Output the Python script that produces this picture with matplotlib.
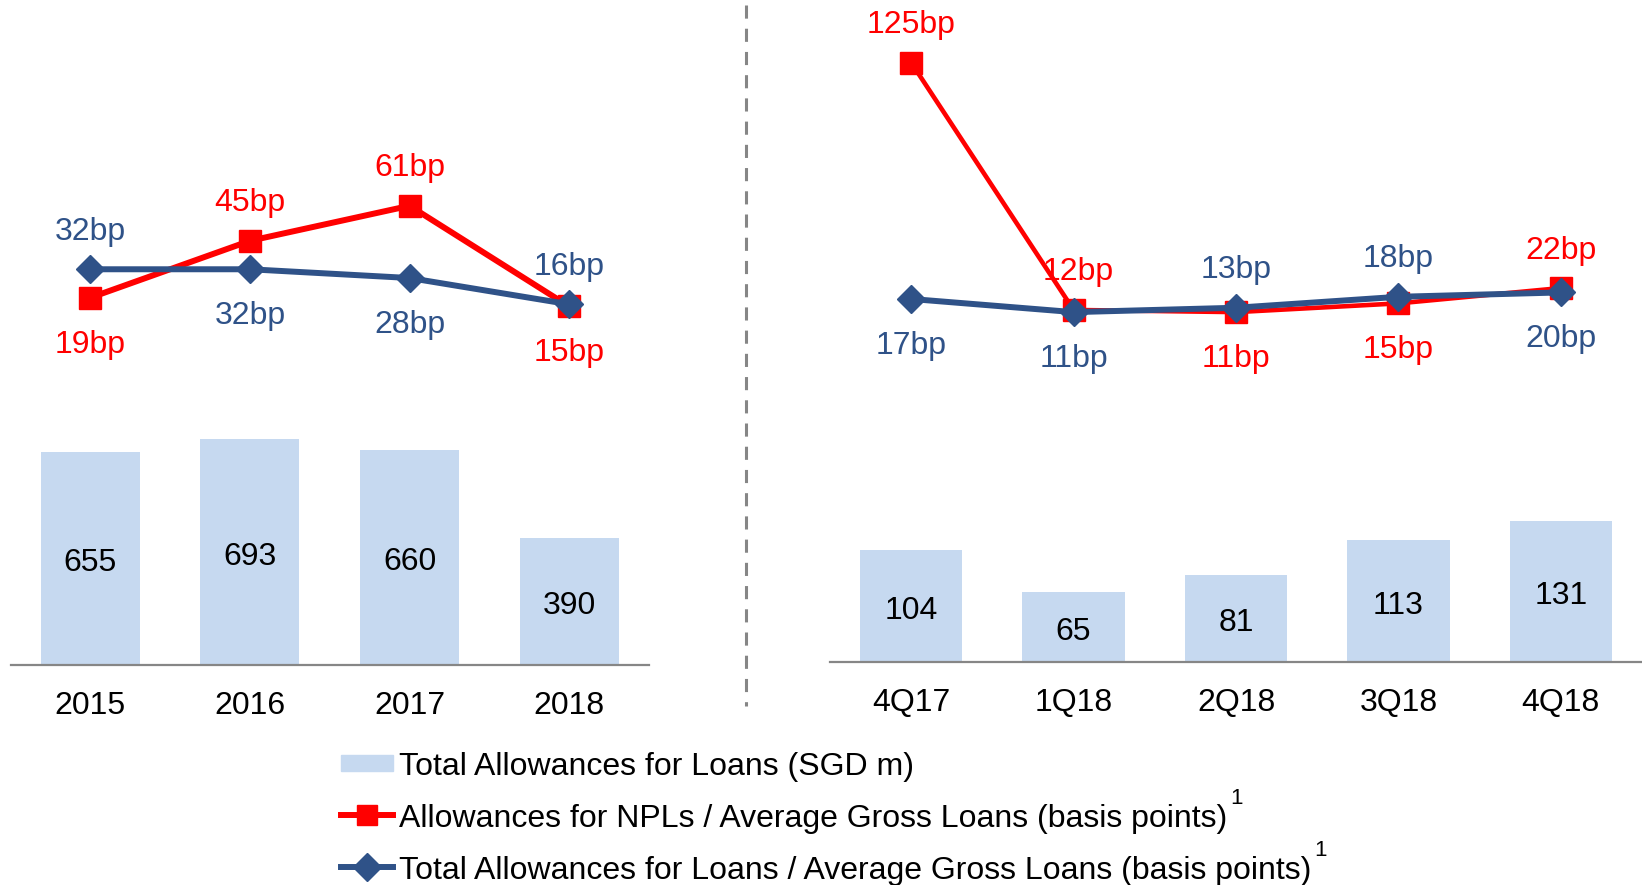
import numpy as np
import matplotlib
matplotlib.use("Agg")
import matplotlib.pyplot as plt
from matplotlib.lines import Line2D
from matplotlib.patches import Rectangle

plt.rcParams['font.family'] = ['Liberation Sans', 'DejaVu Sans']

# Annual figures
years = ["2015", "2016", "2017", "2018"]
year_allowances = [655, 693, 660, 390]
year_npl_bp = [19, 45, 61, 15]
year_total_bp = [32, 32, 28, 16]

# Quarterly figures
quarters = ["4Q17", "1Q18", "2Q18", "3Q18", "4Q18"]
qtr_allowances = [104, 65, 81, 113, 131]
qtr_npl_bp = [125, 12, 11, 15, 22]
qtr_total_bp = [17, 11, 13, 18, 20]

legend_labels = [
    "Total Allowances for Loans (SGD m)",
    "Allowances for NPLs / Average Gross Loans (basis points)",
    "Total Allowances for Loans / Average Gross Loans (basis points)",
]

# which side of the marker each value label sits on (+1 above, -1 below)
year_npl_side = [-1, 1, 1, -1]
year_total_side = [1, -1, -1, 1]
qtr_npl_side = [1, 1, -1, -1, 1]
qtr_total_side = [-1, -1, 1, 1, -1]

BAR = "#C6D9F0"
RED = "#FF0000"
BLUE = "#2F5288"
AXIS = "#868686"
FS = 23

W, H = 1642, 885
fig = plt.figure(figsize=(W / 100, H / 100), dpi=100)


def px_rect(x0, x1, base):
    return [x0 / W, (H - base) / H, (x1 - x0) / W, base / H]


def label_offset(side):
    return 27 if side > 0 else -33.7


def panel(rect, cats, bars, npl, total, npl_side, total_side,
          bar_top, line_lim, bar_w, npl_lw, label_dx=None):
    ax = fig.add_axes(rect)
    x = np.arange(len(cats))
    ax.bar(x, bars, width=bar_w, color=BAR, zorder=1)
    for xi, v in zip(x, bars):
        ax.annotate(str(v), (xi, v / 2), xytext=(0, -3.5),
                    textcoords='offset points', ha='center', va='center',
                    fontsize=FS, color='black')
    ax.set_xlim(-0.5, len(cats) - 0.5)
    ax.set_ylim(0, bar_top)
    ax.set_xticks(x, cats)
    ax.tick_params(axis='x', length=0, pad=19, labelsize=FS)
    ax.set_yticks([])
    for s in ('top', 'left', 'right'):
        ax.spines[s].set_visible(False)
    ax.spines['bottom'].set_color(AXIS)
    ax.spines['bottom'].set_linewidth(1.6)
    ax.patch.set_visible(False)

    ax2 = ax.twinx()
    ax2.set_ylim(*line_lim)
    ax2.set_yticks([])
    for s in ax2.spines.values():
        s.set_visible(False)
    ax2.plot(x, npl, color=RED, lw=npl_lw, marker='s', ms=15.5,
             clip_on=False, zorder=3)
    ax2.plot(x, total, color=BLUE, lw=4.3, marker='D', ms=14.3,
             clip_on=False, zorder=4)
    dx = label_dx if label_dx is not None else [0] * len(cats)
    for i in range(len(cats)):
        ax2.annotate(f"{npl[i]}bp", (x[i], npl[i]),
                     xytext=(dx[i], label_offset(npl_side[i])),
                     textcoords='offset points', ha='center', va='center',
                     fontsize=FS, color=RED, zorder=5)
        ax2.annotate(f"{total[i]}bp", (x[i], total[i]),
                     xytext=(0, label_offset(total_side[i])),
                     textcoords='offset points', ha='center', va='center',
                     fontsize=FS, color=BLUE, zorder=5)
    return ax


LINE_PX = 2.1886  # pixels per basis point on both panels

# annual panel
base_l = 665
bp_floor_l = -(base_l - 339.3) / LINE_PX
panel(px_rect(10.5, 649, base_l), years, year_allowances, year_npl_bp,
      year_total_bp, year_npl_side, year_total_side,
      bar_top=base_l / 0.3257,
      line_lim=(bp_floor_l, bp_floor_l + base_l / LINE_PX),
      bar_w=0.62, npl_lw=4.3)

# quarterly panel
base_r = 662
bp_floor_r = -(base_r - 336.2) / LINE_PX
panel(px_rect(830, 1642, base_r), quarters, qtr_allowances, qtr_npl_bp,
      qtr_total_bp, qtr_npl_side, qtr_total_side,
      bar_top=base_r / 1.0786,
      line_lim=(bp_floor_r, bp_floor_r + base_r / LINE_PX),
      bar_w=0.63, npl_lw=3.3, label_dx=[0, 3, 0, 0, 0])

# dashed divider between the two panels
fig.add_artist(Line2D([746 / W, 746 / W], [1 - 5 / H, 1 - 706 / H],
                      color=AXIS, lw=2.2, dashes=(4.3, 3.3)))

# legend drawn in figure pixels
rows_y = [767.5, 819.5, 871.5]
handle_y = [763, 815, 867]
hx0, hx1, tx = 341, 393, 399
fig.add_artist(Rectangle((hx0 / W, 1 - (handle_y[0] + 8) / H),
                         (hx1 - hx0) / W, 16 / H, color=BAR,
                         transform=fig.transFigure))
fig.add_artist(Line2D([hx0 / W, hx1 / W], [1 - handle_y[1] / H] * 2,
                      color=RED, lw=4.3, transform=fig.transFigure))
fig.add_artist(Line2D([(hx0 + hx1) / 2 / W], [1 - handle_y[1] / H],
                      color=RED, marker='s', ms=14, lw=0,
                      transform=fig.transFigure))
fig.add_artist(Line2D([hx0 / W, hx1 / W], [1 - handle_y[2] / H] * 2,
                      color=BLUE, lw=4.3, transform=fig.transFigure))
fig.add_artist(Line2D([(hx0 + hx1) / 2 / W], [1 - handle_y[2] / H],
                      color=BLUE, marker='D', ms=14, lw=0,
                      transform=fig.transFigure))

renderer = fig.canvas.get_renderer()
for i, (lab, y) in enumerate(zip(legend_labels, rows_y)):
    t = fig.text(tx / W, 1 - y / H, lab, fontsize=FS, ha='left',
                 va='center', color='black')
    if i > 0:
        bb = t.get_window_extent(renderer)
        fig.text((bb.x1 + 3) / W, 1 - (y - 21) / H, "1", fontsize=16,
                 ha='left', va='center', color='black')

fig.savefig("out.png", dpi=100)
